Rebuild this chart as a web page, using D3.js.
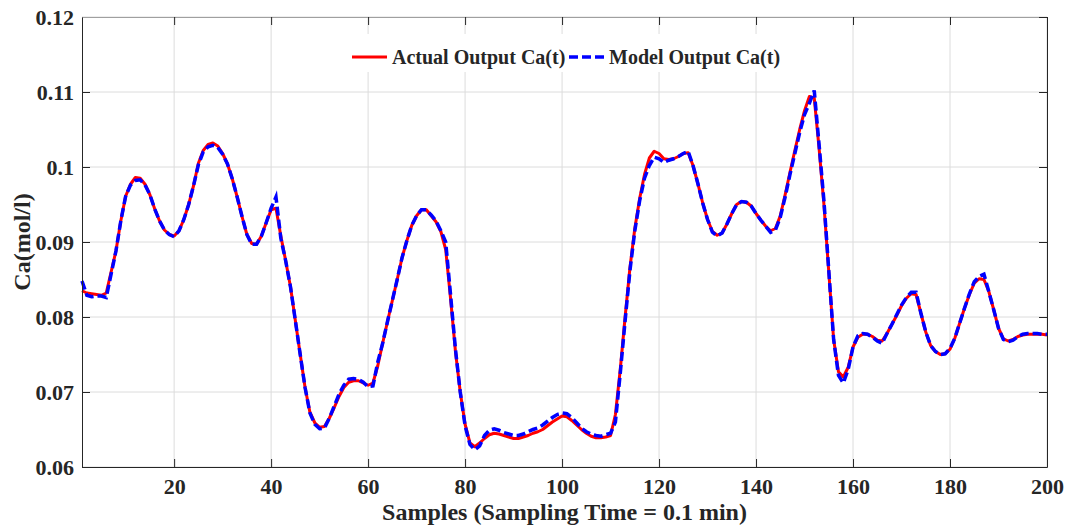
<!DOCTYPE html>
<html>
<head>
<meta charset="utf-8">
<script src="https://cdn.jsdelivr.net/npm/d3@7"></script>
<style>
  body { margin: 0; background: #fff; }
  svg text { font-family: "Liberation Serif", "Times New Roman", serif; font-weight: bold; fill: #262626; }
</style>
</head>
<body>
<svg id="chart" width="1069" height="532"></svg>
<script>
// Actual process output, one value per sample (1..200)
var actual = [
  0.0835, 0.0832, 0.0831, 0.0830, 0.0829, 0.0832, 0.0860, 0.0888, 0.0928, 0.0961,
  0.0977, 0.0986, 0.0985, 0.0977, 0.0963, 0.0944, 0.0928, 0.0916, 0.0910, 0.0908,
  0.0915, 0.0930, 0.0950, 0.0975, 0.1005, 0.1022, 0.1030, 0.1032, 0.1028, 0.1018,
  0.1004, 0.0984, 0.0960, 0.0934, 0.0910, 0.0898, 0.0897, 0.0908, 0.0926, 0.0943,
  0.0945, 0.0908, 0.0875, 0.0840, 0.0795, 0.0750, 0.0706, 0.0673, 0.0659, 0.0653,
  0.0654, 0.0665, 0.0679, 0.0694, 0.0706, 0.0713, 0.0715, 0.0715, 0.0712, 0.0709,
  0.0712, 0.0735, 0.0765, 0.0794, 0.0822, 0.0850, 0.0879, 0.0902, 0.0922, 0.0935,
  0.0943, 0.0943, 0.0935, 0.0927, 0.0914, 0.0890, 0.0825, 0.0755, 0.0700, 0.0657,
  0.0632, 0.0627, 0.0632, 0.0638, 0.0643, 0.0645, 0.0644, 0.0642, 0.0640, 0.0638,
  0.0638, 0.0640, 0.0642, 0.0645, 0.0647, 0.0650, 0.0655, 0.0660, 0.0664, 0.0668,
  0.0667, 0.0662, 0.0656, 0.0650, 0.0645, 0.0641, 0.0639, 0.0639, 0.0640, 0.0642,
  0.0670, 0.0730, 0.0800, 0.0866, 0.0918, 0.0958, 0.0990, 0.1012, 0.1021, 0.1018,
  0.1011, 0.1010, 0.1011, 0.1014, 0.1018, 0.1019, 0.1002, 0.0978, 0.0952, 0.0930,
  0.0914, 0.0909, 0.0912, 0.0924, 0.0938, 0.0950, 0.0954, 0.0953, 0.0948, 0.0938,
  0.0929, 0.0921, 0.0915, 0.0918, 0.0935, 0.0963, 0.0993, 0.1022, 0.1050, 0.1075,
  0.1094, 0.1092, 0.1025, 0.0950, 0.0860, 0.0770, 0.0727, 0.0720, 0.0733, 0.0760,
  0.0773, 0.0777, 0.0777, 0.0774, 0.0769, 0.0768, 0.0778, 0.0790, 0.0802, 0.0815,
  0.0825, 0.0831, 0.0830, 0.0805, 0.0780, 0.0762, 0.0754, 0.0750, 0.0751, 0.0757,
  0.0772, 0.0792, 0.0812, 0.0830, 0.0845, 0.0851, 0.0850, 0.0834, 0.0810, 0.0785,
  0.0771, 0.0768, 0.0770, 0.0774, 0.0776, 0.0777, 0.0777, 0.0777, 0.0777, 0.0776
];

// Model output, one value per sample (1..200)
var model = [
  0.0848, 0.0829, 0.0827, 0.0828, 0.0828, 0.0826, 0.0857, 0.0888, 0.0928, 0.0961,
  0.0976, 0.0982, 0.0983, 0.0976, 0.0963, 0.0944, 0.0928, 0.0916, 0.0910, 0.0907,
  0.0915, 0.0930, 0.0950, 0.0975, 0.1003, 0.1020, 0.1027, 0.1029, 0.1026, 0.1017,
  0.1004, 0.0984, 0.0960, 0.0934, 0.0910, 0.0897, 0.0897, 0.0908, 0.0926, 0.0945,
  0.0960, 0.0905, 0.0875, 0.0840, 0.0795, 0.0750, 0.0706, 0.0672, 0.0657, 0.0651,
  0.0652, 0.0665, 0.0681, 0.0697, 0.0709, 0.0717, 0.0718, 0.0717, 0.0713, 0.0707,
  0.0708, 0.0740, 0.0765, 0.0794, 0.0822, 0.0850, 0.0879, 0.0902, 0.0922, 0.0935,
  0.0943, 0.0943, 0.0936, 0.0928, 0.0915, 0.0900, 0.0830, 0.0758, 0.0700, 0.0655,
  0.0630, 0.0623, 0.0628, 0.0642, 0.0649, 0.0651, 0.0649, 0.0646, 0.0644, 0.0642,
  0.0642, 0.0644, 0.0647, 0.0650, 0.0652, 0.0656, 0.0661, 0.0666, 0.0670, 0.0672,
  0.0671, 0.0666, 0.0659, 0.0652, 0.0647, 0.0644, 0.0642, 0.0641, 0.0643, 0.0645,
  0.0660, 0.0725, 0.0795, 0.0862, 0.0915, 0.0955, 0.0985, 0.1002, 0.1013, 0.1011,
  0.1006, 0.1009, 0.1011, 0.1014, 0.1018, 0.1021, 0.1002, 0.0978, 0.0952, 0.0930,
  0.0913, 0.0908, 0.0912, 0.0924, 0.0938, 0.0950, 0.0954, 0.0953, 0.0948, 0.0938,
  0.0929, 0.0921, 0.0913, 0.0916, 0.0933, 0.0960, 0.0990, 0.1018, 0.1046, 0.1070,
  0.1085, 0.1102, 0.1030, 0.0955, 0.0862, 0.0770, 0.0722, 0.0712, 0.0730, 0.0760,
  0.0775, 0.0778, 0.0777, 0.0773, 0.0768, 0.0765, 0.0778, 0.0790, 0.0803, 0.0816,
  0.0826, 0.0833, 0.0833, 0.0805, 0.0780, 0.0762, 0.0754, 0.0750, 0.0751, 0.0758,
  0.0772, 0.0792, 0.0812, 0.0831, 0.0847, 0.0854, 0.0857, 0.0834, 0.0810, 0.0785,
  0.0770, 0.0767, 0.0769, 0.0774, 0.0777, 0.0778, 0.0778, 0.0778, 0.0777, 0.0777
];

var samples = d3.range(1, actual.length + 1);
var xTicks = [20, 40, 60, 80, 100, 120, 140, 160, 180, 200];
var yTicks = [0.06, 0.07, 0.08, 0.09, 0.1, 0.11, 0.12];
var yTickLabels = ['0.06', '0.07', '0.08', '0.09', '0.1', '0.11', '0.12'];
var seriesNames = ['Actual Output Ca(t)', 'Model Output Ca(t)'];

var margin = { left: 82, right: 22, top: 17, bottom: 65 };
var W = 1069, H = 532;
var svg = d3.select('#chart');
var innerW = W - margin.left - margin.right, innerH = H - margin.top - margin.bottom;

var x = d3.scaleLinear().domain([1, 200]).range([0, innerW]);
var y = d3.scaleLinear().domain([0.06, 0.12]).range([innerH, 0]);

var g = svg.append('g').attr('transform', 'translate(' + margin.left + ',' + margin.top + ')');

// Grid
g.append('g').selectAll('line').data(xTicks).join('line')
  .attr('x1', function(d) { return x(d); }).attr('x2', function(d) { return x(d); })
  .attr('y1', 0).attr('y2', innerH)
  .attr('stroke', '#dcdcdc').attr('stroke-width', 1);
g.append('g').selectAll('line').data(yTicks).join('line')
  .attr('x1', 0).attr('x2', innerW)
  .attr('y1', function(d) { return y(d); }).attr('y2', function(d) { return y(d); })
  .attr('stroke', '#dcdcdc').attr('stroke-width', 1);

// Series
var line = d3.line().x(function(d, i) { return x(samples[i]); }).y(function(d) { return y(d); });
g.append('path').datum(actual).attr('d', line)
  .attr('fill', 'none').attr('stroke', '#ff0000').attr('stroke-width', 3)
  .attr('stroke-linejoin', 'round');
g.append('path').datum(model).attr('d', line)
  .attr('fill', 'none').attr('stroke', '#0000ff').attr('stroke-width', 3.5)
  .attr('stroke-dasharray', '9,4');

// Axes (ticks inside, MATLAB style)
var fmtY = function(d) { return yTickLabels[yTicks.indexOf(d)]; };
var xAxis = g.append('g').attr('transform', 'translate(0,' + innerH + ')')
  .call(d3.axisBottom(x).tickValues(xTicks).tickSizeInner(-8).tickSizeOuter(0).tickPadding(11));
var yAxis = g.append('g')
  .call(d3.axisLeft(y).tickValues(yTicks).tickFormat(fmtY).tickSizeInner(-8).tickSizeOuter(0).tickPadding(8));
var xTop = g.append('g')
  .call(d3.axisTop(x).tickValues(xTicks).tickSizeInner(-8).tickSizeOuter(0).tickFormat(''));
var yRight = g.append('g').attr('transform', 'translate(' + innerW + ',0)')
  .call(d3.axisRight(y).tickValues(yTicks).tickSizeInner(-8).tickSizeOuter(0).tickFormat(''));

[xAxis, yAxis, xTop, yRight].forEach(function(a) {
  a.select('.domain').attr('stroke', '#262626').attr('stroke-width', 1);
  a.selectAll('.tick line').attr('stroke', '#262626');
  a.selectAll('.tick text').attr('font-size', 22).attr('fill', '#262626')
    .attr('font-family', '"Liberation Serif", serif').attr('font-weight', 'bold');
});
xTop.select('.domain').attr('stroke', '#a0a0a0');

// Axis titles
svg.append('text').attr('x', margin.left + innerW / 2).attr('y', 520)
  .attr('text-anchor', 'middle').attr('font-size', 24)
  .text('Samples (Sampling Time = 0.1 min)');
svg.append('text').attr('transform', 'translate(30,' + (margin.top + innerH / 2) + ') rotate(-90)')
  .attr('text-anchor', 'middle').attr('font-size', 24)
  .text('Ca(mol/l)');

// Legend
var leg = svg.append('g').attr('transform', 'translate(346,34)');
leg.append('rect').attr('width', 440).attr('height', 38).attr('fill', '#fff');
leg.append('line').attr('x1', 6).attr('x2', 41).attr('y1', 23).attr('y2', 23)
  .attr('stroke', '#ff0000').attr('stroke-width', 3);
leg.append('text').attr('x', 46).attr('y', 30).attr('font-size', 20).attr('fill', '#000').text(seriesNames[0]);
leg.append('line').attr('x1', 223).attr('x2', 259).attr('y1', 23).attr('y2', 23)
  .attr('stroke', '#0000ff').attr('stroke-width', 3.5).attr('stroke-dasharray', '9,4');
leg.append('text').attr('x', 263).attr('y', 30).attr('font-size', 20).attr('fill', '#000').text(seriesNames[1]);
</script>
</body>
</html>
